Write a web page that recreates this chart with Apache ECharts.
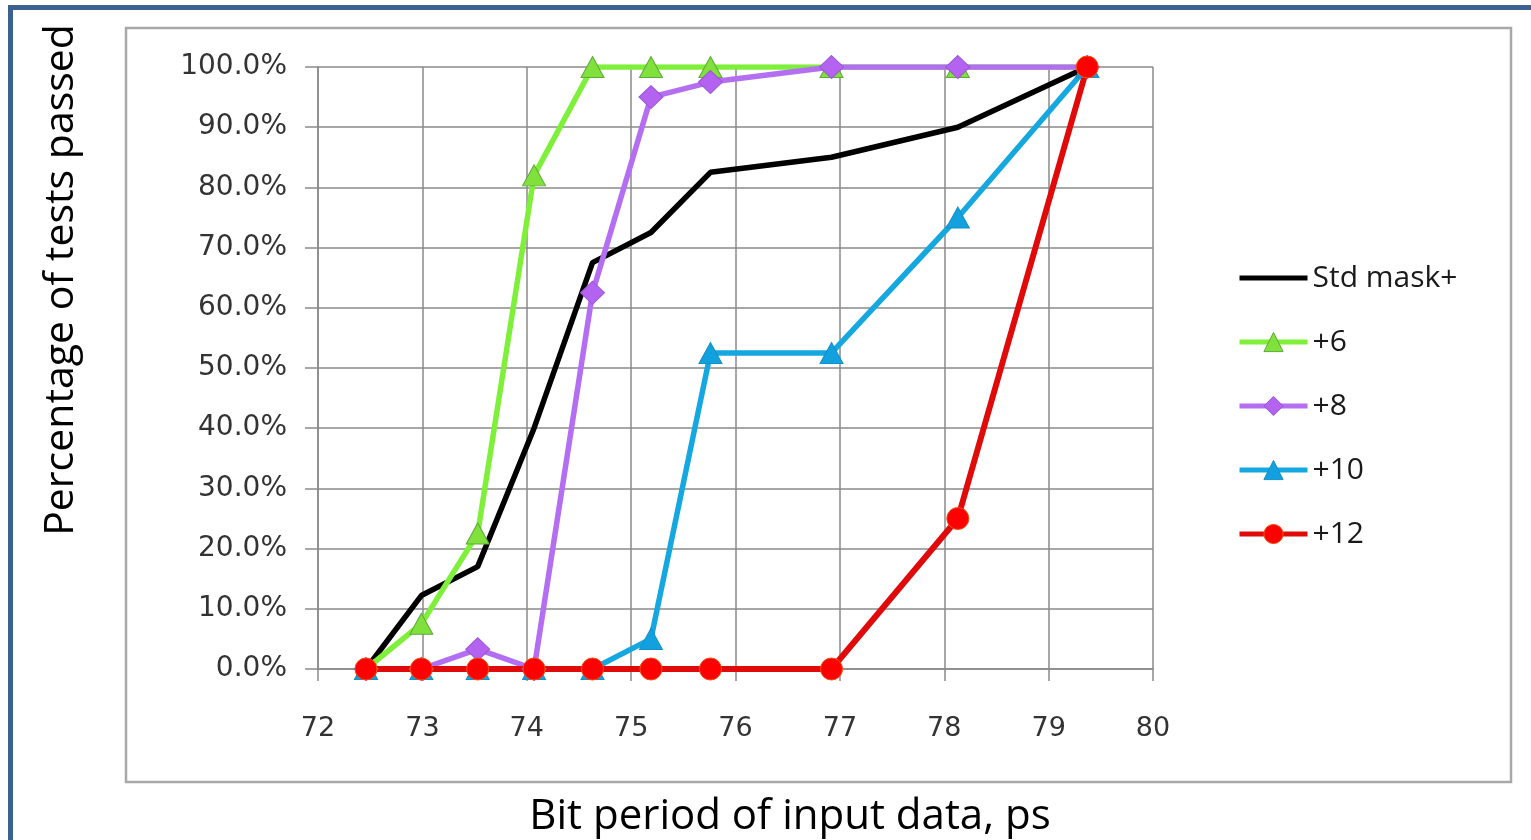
<!DOCTYPE html>
<html>
<head>
<meta charset="utf-8">
<script src="https://cdn.jsdelivr.net/npm/echarts@6/dist/echarts.min.js"></script>
<style>
html,body{margin:0;padding:0;background:#fff;}
#chart{width:1531px;height:840px;}
</style>
</head>
<body>
<div id="chart"></div>
<script>
const periods = [72.46, 72.99, 73.53, 74.07, 74.63, 75.19, 75.76, 76.92, 78.13, 79.37];
const stdMask = [0, 12.2, 17, 40, 67.5, 72.5, 82.5, 85, 90, 100];
const plus6  = [0, 7.5, 22.5, 82, 100, 100, 100, 100, 100, 100];
const plus8  = [0, 0, 3.3, 0, 62.5, 95, 97.5, 100, 100, 100];
const plus10 = [0, 0, 0, 0, 0, 5, 52.5, 52.5, 75, 100];
const plus12 = [0, 0, 0, 0, 0, 0, 0, 0, 25, 100];
const seriesNames = ['Std mask+', '+6', '+8', '+10', '+12'];
const xTitle = 'Bit period of input data, ps';
const yTitle = 'Percentage of tests passed';

function pairs(vals){ return periods.map((p,i)=>[p, vals[i]]); }

const chart = echarts.init(document.getElementById('chart'));
const gridColor = '#8a8a8a';
const option = {
  animation: false,
  backgroundColor: '#ffffff',
  graphic: [
    {type:'rect', z:-10, shape:{x:10.5, y:7.5, width:1600, height:900}, style:{fill:'none', stroke:'#3b6191', lineWidth:5}},
    {type:'rect', z:-9, shape:{x:126, y:28, width:1385, height:754}, style:{fill:'none', stroke:'#a8a8a8', lineWidth:2.5}},
    {type:'text', x:61, y:280, rotation:Math.PI/2, style:{text:yTitle, font:'41px "Open Sans"', fill:'#000', align:'center', verticalAlign:'middle'}},
    {type:'text', x:790, y:817, style:{text:xTitle, font:'42px "Open Sans"', fill:'#000', align:'center', verticalAlign:'middle'}}
  ],
  grid: {left:318, right:378, top:67, bottom:171, containLabel:false},
  legend: {
    orient:'vertical', left:1237, top:261, padding:0, itemWidth:68, itemHeight:24, itemGap:30, itemStyle:{borderWidth:1},
    lineStyle:{width:5},
    textStyle:{fontFamily:'"Open Sans"', fontSize:30, color:'#1a1a1a', lineHeight:34},
    data: [
      {name:seriesNames[0], itemStyle:{opacity:0}},
      seriesNames[1], seriesNames[2], seriesNames[3], seriesNames[4]
    ]
  },
  xAxis: {
    type:'value', min:72, max:80, interval:1,
    axisLine:{show:true, lineStyle:{color:gridColor, width:1.5}},
    axisTick:{show:true, length:12, lineStyle:{color:gridColor, width:1.5}},
    splitLine:{show:true, lineStyle:{color:gridColor, width:1.5}},
    axisLabel:{margin:46, fontFamily:'"DejaVu Sans"', fontSize:27, color:'#333'}
  },
  yAxis: {
    type:'value', min:0, max:100, interval:10,
    axisLine:{show:true, lineStyle:{color:gridColor, width:1.5}},
    axisTick:{show:true, length:13, lineStyle:{color:gridColor, width:1.5}},
    splitLine:{show:true, lineStyle:{color:gridColor, width:1.5}},
    axisLabel:{margin:31, fontFamily:'"DejaVu Sans"', fontSize:28, color:'#333', formatter:v=>v.toFixed(1)+'%'}
  },
  series: [
    {name:seriesNames[0], type:'line', data:pairs(stdMask), symbol:'none', lineStyle:{color:'#000', width:5.5}, itemStyle:{color:'#000'}},
    {name:seriesNames[1], type:'line', data:pairs(plus6), symbol:'triangle', symbolSize:[23,21], lineStyle:{color:'#7ff03a', width:5.5}, itemStyle:{color:'#80e03c', borderColor:'#5fa83a', borderWidth:1}},
    {name:seriesNames[2], type:'line', data:pairs(plus8), symbol:'diamond', symbolSize:[24,23], lineStyle:{color:'#b46ef2', width:5.5}, itemStyle:{color:'#b463f0', borderColor:'#9a55d0', borderWidth:1}},
    {name:seriesNames[3], type:'line', data:pairs(plus10), symbol:'triangle', symbolSize:[23,21], lineStyle:{color:'#15a8e0', width:5.5}, itemStyle:{color:'#12a0de', borderColor:'#1590c8', borderWidth:1}},
    {name:seriesNames[4], type:'line', data:pairs(plus12), symbol:'circle', symbolSize:22, lineStyle:{color:'#e00a0a', width:6}, itemStyle:{color:'#ff0000', borderColor:'#f05010', borderWidth:1}}
  ]
};
chart.setOption(option);
</script>
</body>
</html>
